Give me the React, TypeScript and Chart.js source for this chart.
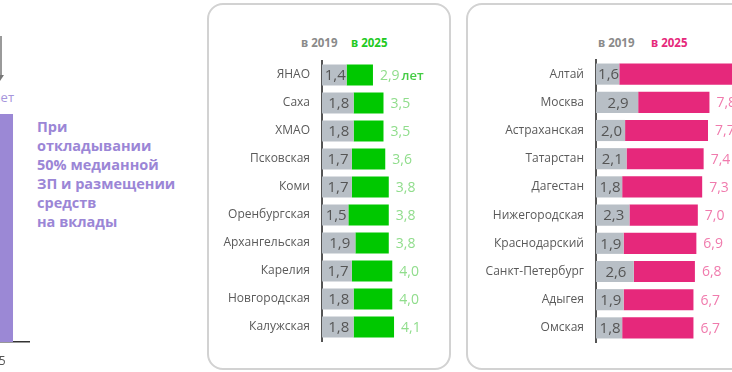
import React, { useEffect, useRef } from "react";
import { Chart, registerables } from "chart.js";

Chart.register(...registerables);

const FONT = "'Open Sans', sans-serif";

// ---- data ----
const greenRegions = ["ЯНАО", "Саха", "ХМАО", "Псковская", "Коми", "Оренбургская", "Архангельская", "Карелия", "Новгородская", "Калужская"];
const green2019 = [1.4, 1.8, 1.8, 1.7, 1.7, 1.5, 1.9, 1.7, 1.8, 1.8];
const green2025 = [2.9, 3.5, 3.5, 3.6, 3.8, 3.8, 3.8, 4.0, 4.0, 4.1];

const pinkRegions = ["Алтай", "Москва", "Астраханская", "Татарстан", "Дагестан", "Нижегородская", "Краснодарский", "Санкт-Петербург", "Адыгея", "Омская"];
const pink2019 = [1.6, 2.9, 2.0, 2.1, 1.8, 2.3, 1.9, 2.6, 1.9, 1.8];
const pink2025 = [10.2, 7.8, 7.7, 7.4, 7.3, 7.0, 6.9, 6.8, 6.7, 6.7];

const leftCategories = ["2025"];
const leftValues = [12];

const legendLabels = ["в 2019", "в 2025"];
const unitLabel = "лет";
const noteLines = ["При", "откладывании", "50% медианной", "ЗП и размещении", "средств", "на вклады"];

// ---- styles ----
const GRAY = "#b8bfc6";
const GREEN = "#00c800";
const PINK = "#e6287b";
const PURPLE = "#9b88d5";

const fmt = (v: number) => v.toFixed(1).replace(".", ",");

function makeLabelPlugin(v19: number[], v25: number[], color: string, unit?: string) {
  return {
    id: "valueLabels",
    afterDatasetsDraw(chart: any) {
      const { ctx } = chart;
      const x = chart.scales.x;
      const y = chart.scales.y;
      ctx.save();
      ctx.textBaseline = "middle";
      v19.forEach((v, i) => {
        const cy = y.getPixelForValue(i);
        const x0 = x.getPixelForValue(0);
        const x1 = x.getPixelForValue(v);
        ctx.font = `15px ${FONT}`;
        ctx.fillStyle = "#555";
        ctx.textAlign = "center";
        ctx.fillText(fmt(v), (x0 + x1) / 2 + 1, cy + 1);
        const x2 = x.getPixelForValue(v25[i]) + 7;
        ctx.font = `14px ${FONT}`;
        ctx.fillStyle = color;
        ctx.textAlign = "left";
        const t = fmt(v25[i]);
        ctx.fillText(t, x2, cy + 1);
        if (i === 0 && unit) {
          const w = ctx.measureText(t).width;
          ctx.font = `600 13px ${FONT}`;
          ctx.fillStyle = "#44cc44";
          ctx.fillText(unit, x2 + w + 2, cy + 1);
        }
      });
      ctx.restore();
    },
  };
}

type RCProps = {
  labels: string[];
  v19: number[];
  v25: number[];
  color: string;
  labelColor: string;
  yWidth: number;
  xMax: number;
  padTop: number;
  padBottom: number;
  width: number;
  height: number;
  left: number;
  top: number;
  unit?: string;
};

function RegionChart(p: RCProps) {
  const ref = useRef<HTMLCanvasElement>(null);
  useEffect(() => {
    const chart = new Chart(ref.current!, {
      type: "bar",
      data: {
        labels: p.labels,
        datasets: [
          {
            data: p.v19,
            backgroundColor: GRAY,
            grouped: false,
            categoryPercentage: 1,
            barPercentage: 0.75,
            borderWidth: 0,
          } as any,
          {
            data: p.v19.map((v, i) => [v, p.v25[i]]),
            backgroundColor: p.color,
            grouped: false,
            categoryPercentage: 1,
            barPercentage: 0.75,
            borderWidth: 0,
          } as any,
        ],
      },
      options: {
        indexAxis: "y",
        animation: false,
        responsive: false,
        maintainAspectRatio: false,
        layout: { padding: { top: p.padTop, bottom: p.padBottom, left: 0, right: 0 } },
        plugins: { legend: { display: false }, tooltip: { enabled: false } },
        scales: {
          x: { display: false, min: 0, max: p.xMax },
          y: {
            z: 1,
            grid: { display: false, drawTicks: false },
            border: { display: true, color: "#555", width: 2 },
            ticks: { padding: 12, color: "#5a5a5a", font: { size: 12, family: FONT } },
            afterFit: (s: any) => {
              s.width = p.yWidth;
              s.paddingTop = 0;
              s.paddingBottom = 0;
            },
          },
        },
      } as any,
      plugins: [makeLabelPlugin(p.v19, p.v25, p.labelColor, p.unit)],
    });
    return () => chart.destroy();
  }, []);
  return (
    <canvas
      ref={ref}
      width={p.width}
      height={p.height}
      style={{ position: "absolute", left: p.left, top: p.top, width: p.width, height: p.height }}
    />
  );
}

function LeftFragment() {
  const ref = useRef<HTMLCanvasElement>(null);
  useEffect(() => {
    const chart = new Chart(ref.current!, {
      type: "bar",
      data: {
        labels: leftCategories,
        datasets: [
          {
            data: leftValues,
            backgroundColor: PURPLE,
            categoryPercentage: 1,
            barPercentage: 0.553,
            borderWidth: 0,
          },
        ],
      },
      options: {
        animation: false,
        responsive: false,
        maintainAspectRatio: false,
        layout: { padding: { top: 0, bottom: 4, left: 0, right: 0 } },
        plugins: { legend: { display: false }, tooltip: { enabled: false } },
        scales: {
          x: {
            grid: { display: false, drawTicks: false },
            border: { display: true, color: "#333", width: 1.5 },
            ticks: { padding: 12, color: "#555", font: { size: 12, family: FONT }, maxRotation: 0 },
            afterFit: (s: any) => {
              s.height = 26;
              s.paddingLeft = 0;
              s.paddingRight = 0;
            },
          },
          y: { display: false, min: 0, max: 18 },
        },
      } as any,
    });
    return () => chart.destroy();
  }, []);
  return (
    <canvas
      ref={ref}
      width={76}
      height={372}
      style={{ position: "absolute", left: -46, top: 0, width: 76, height: 372 }}
    />
  );
}

export default function App() {
  const legendStyle = (left: number, color: string): React.CSSProperties => ({
    position: "absolute",
    left,
    top: 34,
    fontFamily: FONT,
    fontWeight: 700,
    fontSize: 11.5,
    lineHeight: "18px",
    color,
    whiteSpace: "nowrap",
  });
  return (
    <div
      style={{
        position: "absolute",
        left: 0,
        top: 0,
        width: 732,
        height: 372,
        overflow: "hidden",
        background: "#fff",
        fontFamily: FONT,
      }}
    >
      {/* left fragment */}
      <div style={{ position: "absolute", left: 0, top: 36, width: 1.5, height: 42, background: "#9a9a9a" }} />
      <div
        style={{
          position: "absolute",
          left: -4,
          top: 75,
          width: 0,
          height: 0,
          borderLeft: "4px solid transparent",
          borderRight: "4px solid transparent",
          borderTop: "6px solid #777",
        }}
      />
      <div
        style={{
          position: "absolute",
          left: -46,
          width: 60,
          top: 89,
          textAlign: "right",
          fontSize: 13,
          lineHeight: "16px",
          color: "#a695dc",
        }}
      >
        {unitLabel}
      </div>
      <LeftFragment />
      <div
        style={{
          position: "absolute",
          left: 37,
          top: 117,
          fontWeight: 700,
          fontSize: 14.5,
          lineHeight: "19px",
          color: "#9b86d6",
          whiteSpace: "nowrap",
        }}
      >
        {noteLines.map((l, i) => (
          <div key={i}>{l}</div>
        ))}
      </div>

      {/* panels */}
      <div
        style={{
          position: "absolute",
          left: 207,
          top: 3,
          width: 240,
          height: 363,
          border: "2px solid #d2d2d2",
          borderRadius: 16,
        }}
      />
      <div
        style={{
          position: "absolute",
          left: 466,
          top: 3,
          width: 320,
          height: 363,
          border: "2px solid #d2d2d2",
          borderRadius: 16,
        }}
      />

      <div style={legendStyle(301, "#8a8a8a")}>{legendLabels[0]}</div>
      <div style={legendStyle(351, "#22c922")}>{legendLabels[1]}</div>
      <div style={legendStyle(598, "#8a8a8a")}>{legendLabels[0]}</div>
      <div style={legendStyle(651, PINK)}>{legendLabels[1]}</div>

      <RegionChart
        labels={greenRegions}
        v19={green2019}
        v25={green2025}
        color={GREEN}
        labelColor="#90dd8c"
        yWidth={113}
        xMax={7}
        padTop={6}
        padBottom={14}
        width={236}
        height={300}
        left={209}
        top={55}
        unit={unitLabel}
      />
      <RegionChart
        labels={pinkRegions}
        v19={pink2019}
        v25={pink2025}
        color={PINK}
        labelColor="#f07bad"
        yWidth={128}
        xMax={9.35}
        padTop={5}
        padBottom={13}
        width={264}
        height={300}
        left={468}
        top={55}
      />
    </div>
  );
}
